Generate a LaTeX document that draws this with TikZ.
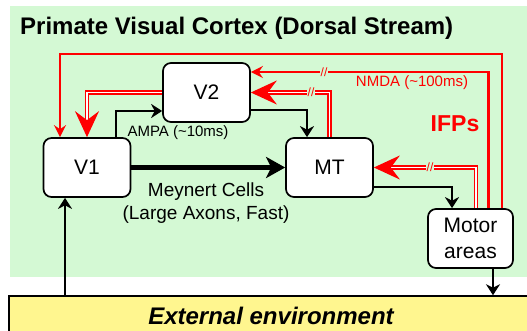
\documentclass[tikz,border=0pt]{standalone}
\usepackage{fontspec}
\setmainfont{Liberation Sans}
\usetikzlibrary{arrows.meta}
\definecolor{bggreen}{RGB}{212,249,212}
\definecolor{envyellow}{RGB}{255,246,143}
\begin{document}
\begin{tikzpicture}[x=1pt,y=-1pt,
  box/.style={draw=black, line width=1.7pt, fill=white, rounded corners=8pt, minimum width=87pt, minimum height=59pt, inner sep=0pt, font=\fontsize{21}{25}\selectfont, align=center},
  blk/.style={draw=black, line width=2.2pt, -{Stealth[length=11pt,width=14pt,inset=3.5pt]}},
  fastax/.style={draw=black, line width=4.4pt, -{Stealth[length=19pt,width=21pt,inset=5pt]}},
  redthin/.style={draw=red, line width=2.4pt, -{Stealth[length=12pt,width=12pt,inset=4pt]}},
  reddbl/.style={draw=red, line width=1.2pt, double=white, double distance=1.8pt, -{Stealth[length=26pt,width=24pt,inset=9pt]}},
  slashmark/.style={fill=bggreen, text=red, inner sep=0.6pt, font=\fontsize{12}{12}\selectfont},
  lbl/.style={inner sep=0pt, font=\fontsize{15}{18}\selectfont},
]
\useasboundingbox (0,0) rectangle (527,331);
\fill[bggreen] (10,6) rectangle (527,277);
\node[draw=black, line width=1.5pt, fill=envyellow, minimum width=524pt, minimum height=39pt, inner sep=0pt, font=\fontsize{24}{28}\selectfont\bfseries\itshape] (ext) at (271,315.5) {External environment};
\node[anchor=base west, font=\fontsize{24}{28}\selectfont\bfseries, inner sep=0pt] (title) at (20,35) {Primate Visual Cortex (Dorsal Stream)};

\node[box] (V1) at (87,167.5) {V1};
\node[box] (V2) at (206.5,92.5) {V2};
\node[box] (MT) at (329.5,167.5) {MT};
\node[box, minimum width=85pt, font=\fontsize{21}{26}\selectfont] (Motor) at (470.5,238.5) {Motor\\areas};

% black connectors
\coordinate (c1) at (116,111);
\draw[blk] (V1.north -| c1) |- (V2.west |- c1);
\coordinate (c2) at (307,110);
\draw[blk] (V2.east |- c2) -| (MT.north -| c2);
\draw[fastax] (V1.east) -- (MT.west);
\coordinate (c3) at (452,187);
\draw[blk] (MT.east |- c3) -| (Motor.north -| c3);
\coordinate (c4) at (493,0);
\draw[blk] (Motor.south -| c4) -- (ext.north -| c4);
\coordinate (c5) at (65,0);
\draw[blk] (ext.north -| c5) -- (V1.south -| c5);

% red connectors
\coordinate (r1) at (502,54);
\coordinate (r1b) at (60,54);
\draw[redthin] (Motor.north -| r1) -- (r1) -- (r1b) -- (V1.north -| r1b);
\coordinate (r2) at (488.5,72);
\draw[redthin] (Motor.north -| r2) |- (V2.east |- r2);
\draw[reddbl] (MT.north) |- (V2.east);
\coordinate (r3) at (476,0);
\draw[reddbl] (Motor.north -| r3) |- (MT.east);
\draw[reddbl] (V2.west) -| (V1.north);

\node[slashmark] (s1) at (324,72) {//};
\node[slashmark] (s2) at (311,92.5) {//};
\node[slashmark] (s3) at (430,167.5) {//};

% labels
\node[lbl] (ampa) at (178,133) {AMPA (\textasciitilde10ms)};
\node[lbl, text=red] (nmda) at (412,82.5) {NMDA (\textasciitilde100ms)};
\node[inner sep=0pt, font=\fontsize{23}{27}\selectfont\bfseries, text=red] (ifps) at (455,124) {IFPs};
\node[inner sep=0pt, font=\fontsize{19}{23}\selectfont, align=center] (meyn) at (206,203.5) {Meynert Cells\\(Large Axons, Fast)};
\end{tikzpicture}
\end{document}
